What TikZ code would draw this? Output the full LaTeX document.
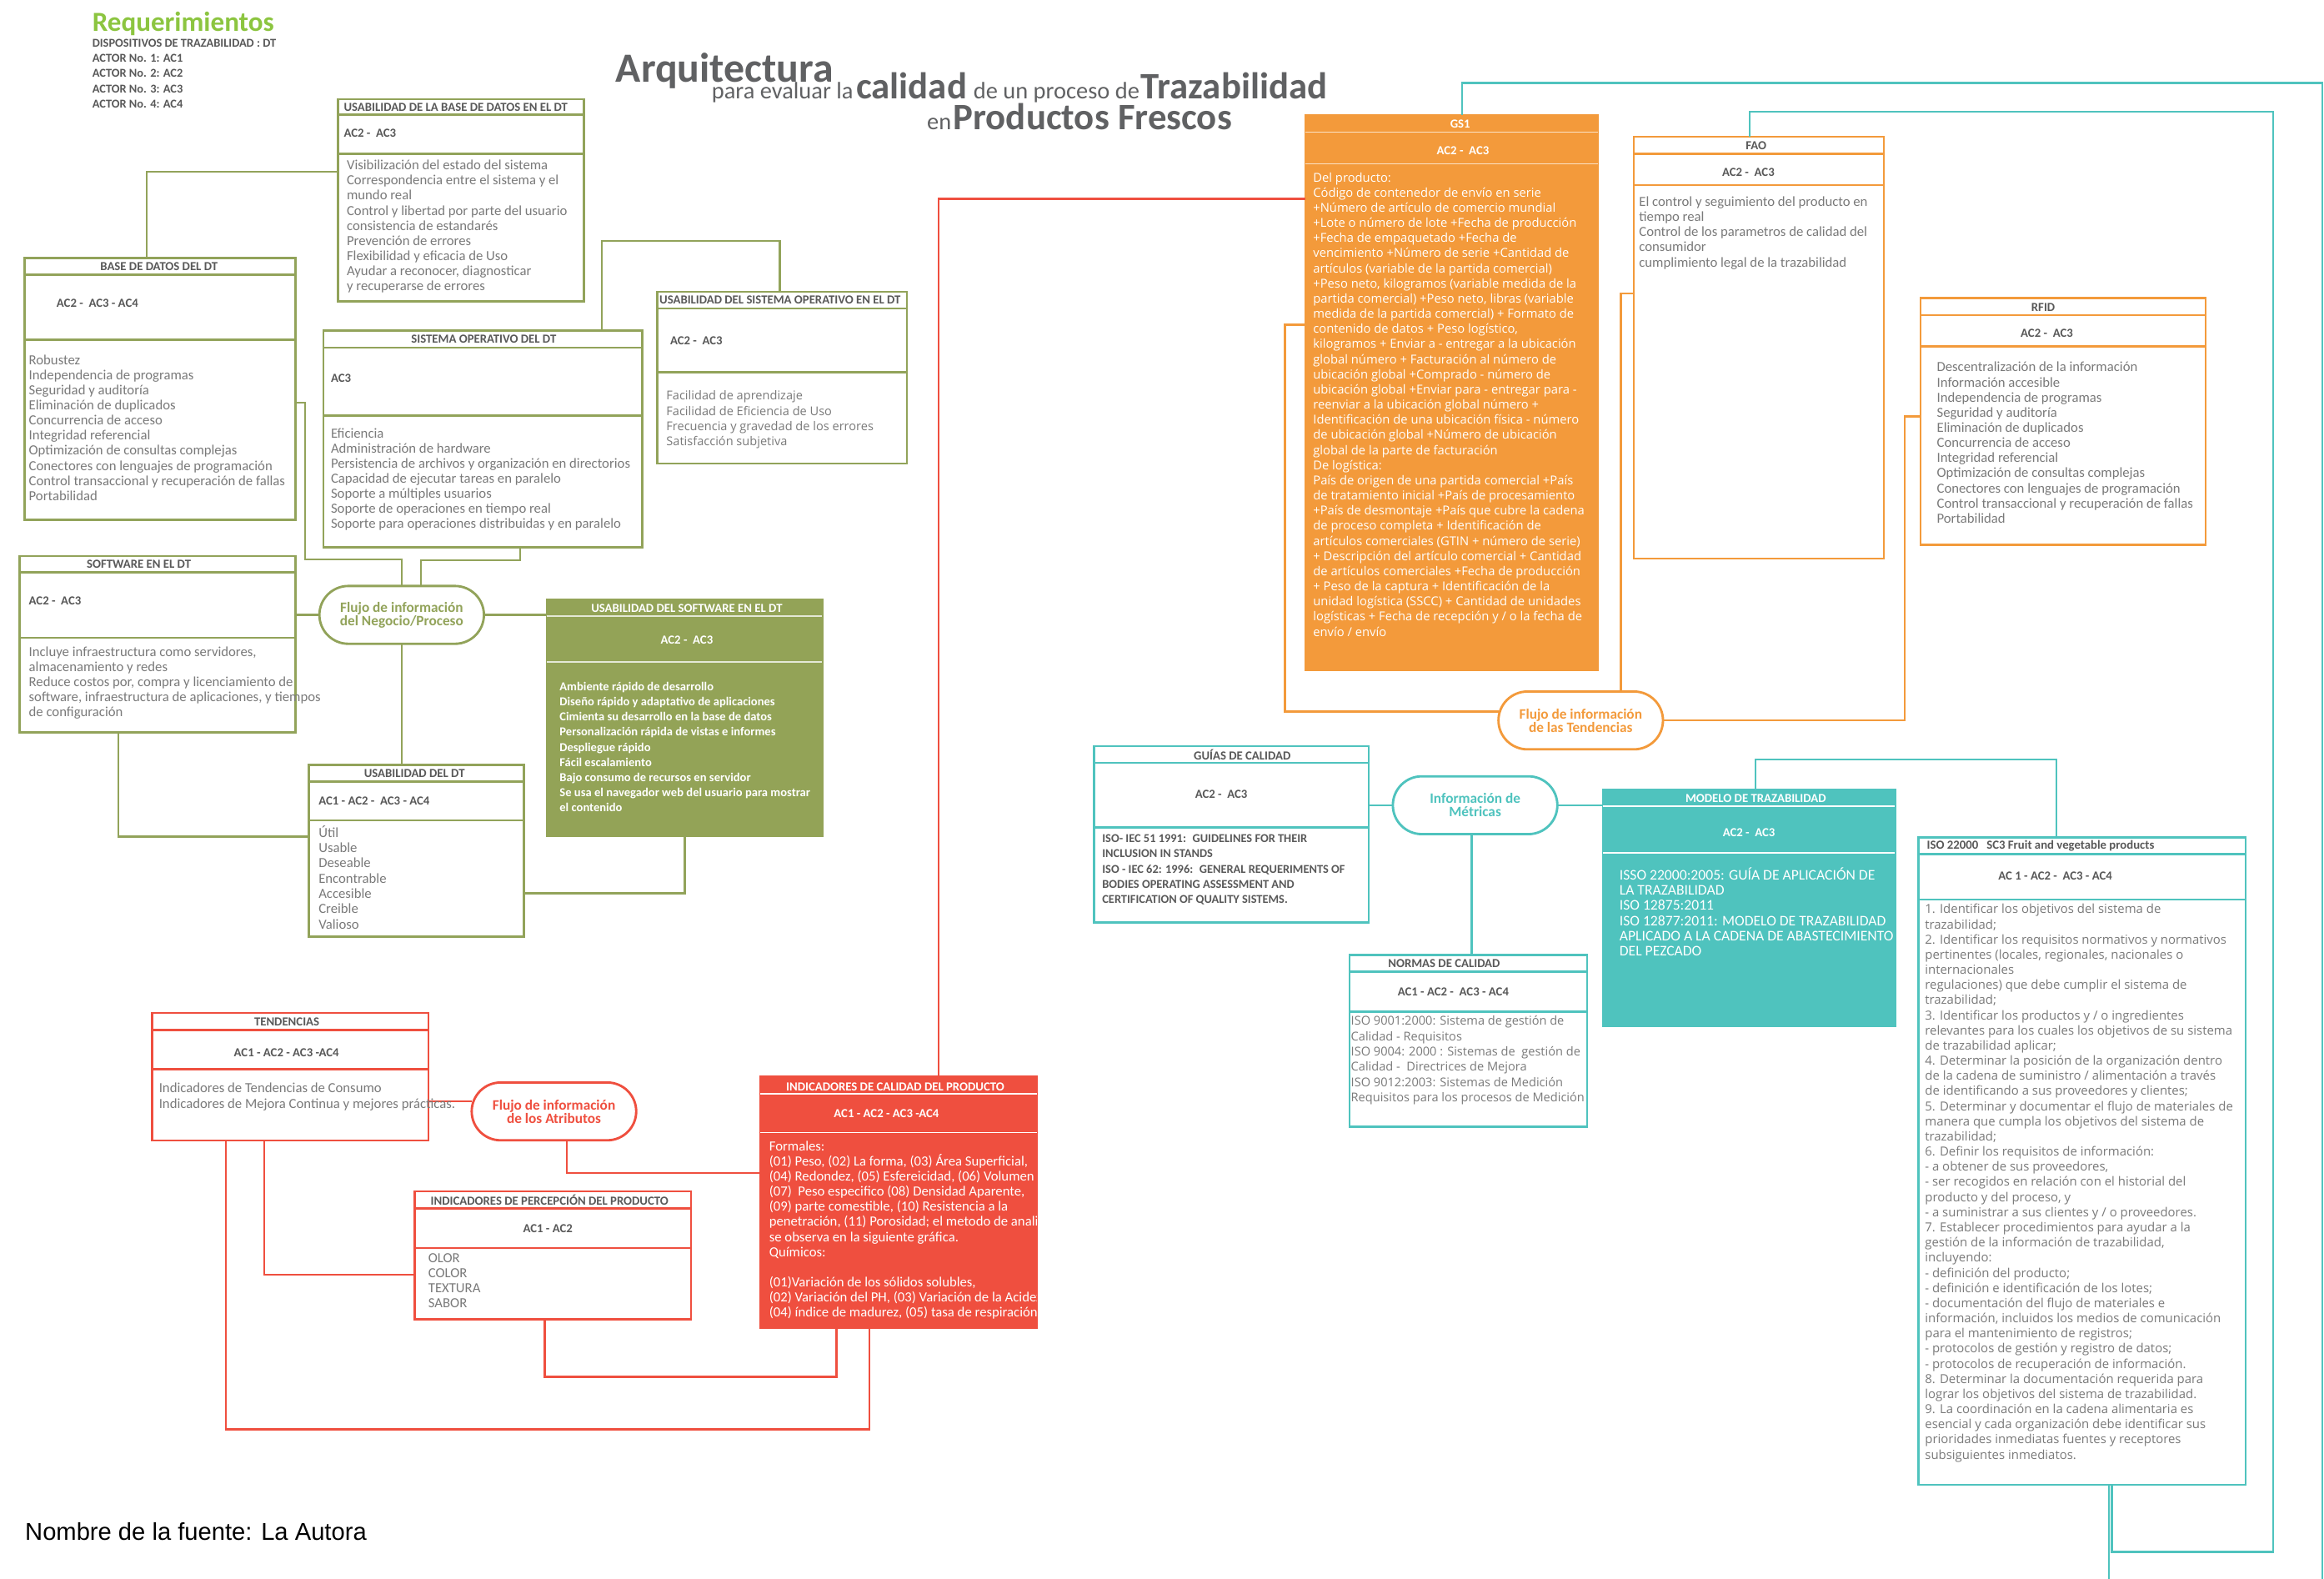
\documentclass[tikz,border=0pt]{standalone}
\usepackage{fontspec}
\setmainfont{Carlito}
\newfontfamily\seg{Open Sans}
\newfontfamily\ari{Liberation Sans}
\definecolor{grn}{HTML}{92A35A}
\definecolor{grnf}{HTML}{93A357}
\definecolor{red1}{HTML}{EF4F3F}
\definecolor{org}{HTML}{F39A3B}
\definecolor{teal1}{HTML}{4FC3BE}
\definecolor{txtg}{HTML}{7A7A7A}
\definecolor{ttlg}{HTML}{595959}
\definecolor{reqg}{HTML}{8CC540}
\definecolor{titg}{HTML}{606163}
\newcommand\tbox[8]{%
  \pgfmathsetmacro\bw{#5-#3}\pgfmathsetmacro\bh{#6-#4}%
  \node[#2, anchor=north west, minimum width=\bw pt, minimum height=\bh pt] (#1) at (#3,#4) {};
  \draw[#2sep] (#3,#7) -- (#5,#7) (#3,#8) -- (#5,#8);}
\tikzset{
  every node/.style={inner sep=0pt, outer sep=0pt},
  gb/.style={rectangle, draw=grn, fill=white, line width=1.4pt},
  gbsep/.style={draw=grn, line width=1.4pt},
  gf/.style={rectangle, draw=grnf, fill=grnf, line width=1.4pt},
  gfsep/.style={draw=white!75!grnf, line width=0.8pt},
  rb/.style={rectangle, draw=red1, fill=white, line width=1.4pt},
  rbsep/.style={draw=red1, line width=1.4pt},
  rf/.style={rectangle, draw=red1, fill=red1, line width=1.4pt},
  rfsep/.style={draw=white, line width=0.9pt},
  ob/.style={rectangle, draw=org, fill=white, line width=1.4pt},
  obsep/.style={draw=org, line width=1.4pt},
  of/.style={rectangle, draw=org, fill=org, line width=1.4pt},
  ofsep/.style={draw=white!70!org, line width=0.8pt},
  tb/.style={rectangle, draw=teal1, fill=white, line width=1.4pt},
  tbsep/.style={draw=teal1, line width=1.4pt},
  tf/.style={rectangle, draw=teal1, fill=teal1, line width=1.4pt},
  tfsep/.style={draw=white, line width=0.9pt},
  gl/.style={draw=grn, line width=1.3pt},
  rl/.style={draw=red1, line width=1.3pt},
  ol/.style={draw=org, line width=1.3pt},
  tl/.style={draw=teal1, line width=1.3pt},
  ttl/.style={font=\fontsize{8.3}{9}\selectfont\bfseries, text=ttlg},
  acl/.style={font=\fontsize{8.3}{9}\selectfont\bfseries, text=ttlg},
  bod/.style={anchor=north west, align=left, text=txtg, font=\fontsize{9.4}{10.2}\selectfont, execute at begin node=\strut},
  sbod/.style={anchor=north west, align=left, text=txtg, font=\seg\fontsize{8.2}{10.22}\selectfont, execute at begin node=\strut},
  flow/.style={rectangle, rounded corners=19.5pt, line width=1.6pt, fill=white, align=center,
    font=\fontsize{9.7}{9}\selectfont\bfseries, minimum width=111pt, minimum height=39pt},
}
\begin{document}
\begin{tikzpicture}[x=1pt,y=-1pt]
\useasboundingbox (0,0) rectangle (1568,1065.2);
\fill[white] (0,0) rectangle (1568,1065.2);

% ---------- header ----------
\node[anchor=base west, font=\fontsize{18.6}{20}\selectfont\bfseries, text=reqg] (req) at (62.3,21) {Requerimientos};
\node[anchor=north west, align=left, font=\fontsize{8.1}{10.33}\selectfont\bfseries, text=ttlg, execute at begin node=\strut] (actors) at (62.3,26.3)
 {DISPOSITIVOS DE TRAZABILIDAD : DT\\ACTOR No. 1: AC1\\ACTOR No. 2: AC2\\ACTOR No. 3: AC3\\ACTOR No. 4: AC4};
\node[anchor=base west, font=\fontsize{28}{30}\selectfont\bfseries, text=titg] (ta) at (415.6,55.6) {Arquitectura};
\node[anchor=base west, font=\fontsize{16}{18}\selectfont, text=titg] (tb) at (480.2,66.6) {para evaluar la};
\node[anchor=base west, font=\fontsize{25.2}{27}\selectfont\bfseries, text=titg] (tc) at (577.7,66.6) {calidad};
\node[anchor=base west, font=\fontsize{16}{18}\selectfont, text=titg] (td) at (656.8,66.6) {de un proceso de};
\node[anchor=base west, font=\fontsize{25.2}{27}\selectfont\bfseries, text=titg] (te) at (769.8,66.6) {Trazabilidad};
\node[anchor=base west, font=\fontsize{16}{18}\selectfont, text=titg] (tf) at (625.5,87.7) {en};
\node[anchor=base west, font=\fontsize{25.2}{27}\selectfont\bfseries, text=titg] (tg) at (643.2,87.7) {Productos Frescos};
\node[anchor=base west, font=\ari\fontsize{16.4}{18}\selectfont, text=black] (src) at (17,1039) {Nombre de la fuente: La Autora};

% ---------- boxes ----------
\tbox{ubd}{gb}{228}{67}{394}{203.4}{77.4}{103.7}
\tbox{bd}{gb}{16.6}{174}{199.4}{350.6}{185.2}{229.3}
\tbox{so}{gb}{218.1}{223.1}{433.3}{369.3}{234.4}{280.3}
\tbox{uso}{gb}{443.4}{196.8}{612}{312.7}{208.1}{251.2}
\tbox{sw}{gb}{13.2}{375}{199.4}{494}{386.2}{430.2}
\tbox{usw}{gf}{369}{404.4}{554.8}{563.9}{415.6}{446.6}
\tbox{usdt}{gb}{208.5}{516}{353.5}{631.8}{527.2}{553.4}
\tbox{gs1}{of}{880.6}{77.5}{1078}{451.9}{89.2}{110.4}
\tbox{fao}{ob}{1102.2}{92.2}{1270.9}{376.8}{103.8}{124.9}
\tbox{rfid}{ob}{1295.8}{201.1}{1488.1}{367.4}{212.7}{233.8}
\tbox{ten}{rb}{102.6}{683.4}{289.1}{769.5}{694.8}{721.3}
\tbox{ipp}{rb}{279.8}{803.6}{466.3}{890}{815.3}{841.8}
\tbox{icp}{rf}{513}{726.3}{699.5}{895.6}{738}{764}
\tbox{gc}{tb}{738.2}{503.4}{923.5}{622.4}{514.6}{558.3}
\tbox{mt}{tf}{1081.6}{533}{1278.5}{692.2}{543.7}{575.2}
\tbox{nc}{tb}{910.6}{644.3}{1070.8}{760.2}{655.6}{682.4}
\tbox{iso}{tb}{1294.5}{564.9}{1515.2}{1001.7}{576.1}{606.8}

% ---------- flow nodes ----------
\node[flow, draw=grn, text=grn] (fn) at (271,414.8) {Flujo de información\\del Negocio/Proceso};
\node[flow, draw=red1, text=red1] (fa) at (373.75,749.75) {Flujo de información\\de los Atributos};
\node[flow, draw=org, text=org] (ft) at (1066.5,486) {Flujo de información\\de las Tendencias};
\node[flow, draw=teal1, text=teal1] (im) at (995.25,543.2) {Información de\\Métricas};
\coordinate (isobot) at (1423,1065.2);
\coordinate (rbot) at (1567,1065.2);

% ---------- connectors ----------
\draw[gl] (ubd.west |- 0,115.7) -| (99,0 |- bd.north);
\draw[gl] (bd.east |- 0,271.8) -| (205.8,377.2) -| (271.2,0 |- fn.north);
\draw[gl] (351,0 |- so.south) |- (284,377.8) -- (284,0 |- fn.north);
\draw[gl] (405.9,0 |- so.north) |- (526.2,162.7) -- (526.2,0 |- uso.north);
\draw[gl] (sw.east |- fn.west) -- (fn.west);
\draw[gl] (fn.east) -- (usw.west |- fn.east);
\draw[gl] (fn.south) -- (usdt.north -| fn.south);
\draw[gl] (79.8,0 |- sw.south) |- (usdt.west |- 0,564.3);
\draw[gl] (462,0 |- usw.south) |- (usdt.east |- 0,602.7);

\draw[rl] (ten.east |- 0,743) -- (fa.west |- 0,743);
\draw[rl] (382.4,0 |- fa.south) |- (icp.west |- 0,791.2);
\draw[rl] (633.3,0 |- icp.north) |- (gs1.west |- 0,134.1);
\draw[rl] (564.3,0 |- icp.south) |- (367.5,928.8) -- (367.5,0 |- ipp.south);
\draw[rl] (586.7,0 |- icp.south) |- (152.5,964.3) -- (152.5,0 |- ten.south);
\draw[rl] (178.1,0 |- ten.south) |- (ipp.west |- 0,860.1);

\draw[ol] (gs1.west |- 0,219) -| (867,480) -- (ft.west |- 0,480);
\draw[ol] (fao.west |- 0,198) -| (1093.6,0 |- ft.north);
\draw[ol] (rfid.west |- 0,281) -| (1285.2,486) -- (ft.east);

\draw[tl] (gc.east |- im.west) -- (im.west);
\draw[tl] (im.east) -- (mt.west |- im.east);
\draw[tl] (993,0 |- im.south) -- (993,0 |- nc.north);
\draw[tl] (1184.6,0 |- mt.north) |- (1387.5,512.2) -- (1387.5,0 |- iso.north);
\draw[tl] (986.5,0 |- gs1.north) |- (1567,56) -- (rbot);
\draw[tl] (1180.5,0 |- fao.north) |- (1533.5,75.5) |- (1424.8,1046.9) -- (1424.8,0 |- iso.south);
\draw[tl] (1423,0 |- iso.south) -- (isobot);

% ---------- titles & actor labels ----------
\node[ttl] (ubdT) at (307.5,72.5) {USABILIDAD DE LA BASE DE DATOS EN EL DT};
\node[acl, anchor=west] (ubdA) at (232,90) {AC2 -~ AC3};
\node[ttl] (bdT) at (107.3,179.6) {BASE DE DATOS DEL DT};
\node[acl, anchor=west] (bdA) at (38.2,204.4) {AC2 -~ AC3 - AC4};
\node[ttl] (soT) at (326.4,228.8) {SISTEMA OPERATIVO DEL DT};
\node[acl, anchor=west] (soA) at (223.3,255) {AC3};
\node[ttl] (usoT) at (526.3,202.5) {USABILIDAD DEL SISTEMA OPERATIVO EN EL DT};
\node[acl, anchor=west] (usoA) at (452.2,229.7) {AC2 -~ AC3};
\node[ttl] (swT) at (93.7,380.6) {SOFTWARE EN EL DT};
\node[acl, anchor=west] (swA) at (19.5,405.5) {AC2 -~ AC3};
\node[ttl, text=white] (uswT) at (463.4,410.6) {USABILIDAD DEL SOFTWARE EN EL DT};
\node[acl, text=white] (uswA) at (463.4,431.8) {AC2 -~ AC3};
\node[ttl] (usdtT) at (279.6,521.8) {USABILIDAD DEL DT};
\node[acl, anchor=west] (usdtA) at (215,540.3) {AC1 - AC2 -~ AC3 - AC4};
\node[ttl, text=white] (gs1T) at (985.2,83.4) {GS1};
\node[acl, text=white] (gs1A) at (987,101.6) {AC2 -~ AC3};
\node[ttl] (faoT) at (1184.8,98.2) {FAO};
\node[acl] (faoA) at (1179.6,116.3) {AC2 -~ AC3};
\node[ttl] (rfidT) at (1378.5,207.3) {RFID};
\node[acl] (rfidA) at (1381,224.8) {AC2 -~ AC3};
\node[ttl] (tenT) at (193.5,689.4) {TENDENCIAS};
\node[acl] (tenA) at (193.3,709.9) {AC1 - AC2 - AC3 -AC4};
\node[ttl] (ippT) at (370.8,809.7) {INDICADORES DE PERCEPCIÓN DEL PRODUCTO};
\node[acl] (ippA) at (369.6,828.8) {AC1 - AC2};
\node[ttl, text=white] (icpT) at (604,733) {INDICADORES DE CALIDAD DEL PRODUCTO};
\node[acl, text=white] (icpA) at (598.1,751.4) {AC1 - AC2 - AC3 -AC4};
\node[ttl] (gcT) at (838.1,509) {GUÍAS DE CALIDAD};
\node[acl] (gcA) at (824,535.8) {AC2 -~ AC3};
\node[ttl, text=white] (mtT) at (1184.6,538.6) {MODELO DE TRAZABILIDAD};
\node[acl, text=white] (mtA) at (1180,561.5) {AC2 -~ AC3};
\node[ttl] (ncT) at (974.3,650.2) {NORMAS DE CALIDAD};
\node[acl] (ncA) at (980.5,669.3) {AC1 - AC2 -~ AC3 - AC4};
\node[ttl, anchor=west] (isoT) at (1300.1,570.4) {ISO 22000~~ SC3 Fruit and vegetable products};
\node[acl] (isoA) at (1386.7,590.7) {AC 1 - AC2 -~ AC3 - AC4};

% ---------- body texts ----------
\node[bod] (ubdB) at (234,108) {Visibilización del estado del sistema\\Correspondencia entre el sistema y el\\mundo real\\Control y libertad por parte del usuario\\consistencia de estandarés\\Prevención de errores\\Flexibilidad y eficacia de Uso\\Ayudar a reconocer, diagnosticar\\y recuperarse de errores};
\node[bod] (bdB) at (19.5,239.3) {Robustez\\Independencia de programas\\Seguridad y auditoría\\Eliminación de duplicados\\Concurrencia de acceso\\Integridad referencial\\Optimización de consultas complejas\\Conectores con lenguajes de programación\\Control transaccional y recuperación de fallas\\Portabilidad};
\node[bod] (soB) at (223.3,288.8) {Eficiencia\\Administración de hardware\\Persistencia de archivos y organización en directorios\\Capacidad de ejecutar tareas en paralelo\\Soporte a múltiples usuarios\\Soporte de operaciones en tiempo real\\Soporte para operaciones distribuidas y en paralelo};
\node[sbod, font=\seg\fontsize{8.2}{10.3}\selectfont] (usoB) at (449.6,263.6) {Facilidad de aprendizaje\\Facilidad de Eficiencia de Uso\\Frecuencia y gravedad de los errores\\Satisfacción subjetiva};
\node[bod, font=\fontsize{9.4}{10.1}\selectfont] (swB) at (19.5,436.2) {Incluye infraestructura como servidores,\\almacenamiento y redes\\Reduce costos por, compra y licenciamiento de\\software, infraestructura de aplicaciones, y tiempos\\de configuración};
\node[bod, text=white, font=\fontsize{8.2}{10.2}\selectfont\bfseries] (uswB) at (377.6,460.2) {Ambiente rápido de desarrollo\\Diseño rápido y adaptativo de aplicaciones\\Cimienta su desarrollo en la base de datos\\Personalización rápida de vistas e informes\\Despliegue rápido\\Fácil escalamiento\\Bajo consumo de recursos en servidor\\Se usa el navegador web del usuario para mostrar\\el contenido};
\node[bod, font=\fontsize{9.4}{10.3}\selectfont] (usdtB) at (215,557) {Útil\\Usable\\Deseable\\Encontrable\\Accesible\\Creible\\Valioso};
\node[sbod, text=white, font=\seg\fontsize{8.3}{10.22}\selectfont] (gs1B) at (886,116.3) {Del producto:\\Código de contenedor de envío en serie\\+Número de artículo de comercio mundial\\+Lote o número de lote +Fecha de producción\\+Fecha de empaquetado +Fecha de\\vencimiento +Número de serie +Cantidad de\\artículos (variable de la partida comercial)\\+Peso neto, kilogramos (variable medida de la\\partida comercial) +Peso neto, libras (variable\\medida de la partida comercial) + Formato de\\contenido de datos + Peso logístico,\\kilogramos + Enviar a - entregar a la ubicación\\global número + Facturación al número de\\ubicación global +Comprado - número de\\ubicación global +Enviar para - entregar para -\\reenviar a la ubicación global número +\\Identificación de una ubicación física - número\\de ubicación global +Número de ubicación\\global de la parte de facturación\\De logística:\\País de origen de una partida comercial +País\\de tratamiento inicial +País de procesamiento\\+País de desmontaje +País que cubre la cadena\\de proceso completa + Identificación de\\artículos comerciales (GTIN + número de serie)\\+ Descripción del artículo comercial + Cantidad\\de artículos comerciales +Fecha de producción\\+ Peso de la captura + Identificación de la\\unidad logística (SSCC) + Cantidad de unidades\\logísticas + Fecha de recepción y / o la fecha de\\envío / envío};
\node[bod, font=\fontsize{9.4}{10.3}\selectfont] (faoB) at (1105.9,132.4) {El control y seguimiento del producto en\\tiempo real\\Control de los parametros de calidad del\\consumidor\\cumplimiento legal de la trazabilidad};
\node[bod] (rfidB) at (1306.8,244.3) {Descentralización de la información\\Información accesible\\Independencia de programas\\Seguridad y auditoría\\Eliminación de duplicados\\Concurrencia de acceso\\Integridad referencial\\Optimización de consultas complejas\\Conectores con lenguajes de programación\\Control transaccional y recuperación de fallas\\Portabilidad};
\node[bod, font=\fontsize{9.4}{10.5}\selectfont] (tenB) at (107.3,730.5) {Indicadores de Tendencias de Consumo\\Indicadores de Mejora Continua y mejores prácticas.};
\node[bod, font=\fontsize{9.4}{10.07}\selectfont] (ippB) at (289,845.8) {OLOR\\COLOR\\TEXTURA\\SABOR};
\begin{scope}
\clip (icp.north west) rectangle (icp.south east);
\node[bod, text=white] (icpB) at (519,769.7) {Formales:\\(01) Peso, (02) La forma, (03) Área Superficial,\\(04) Redondez, (05) Esfereicidad, (06) Volumen\\(07)~ Peso especifico (08) Densidad Aparente,\\(09) parte comestible, (10) Resistencia a la\\penetración, (11) Porosidad; el metodo de analisis\\se observa en la siguiente gráfica.\\Químicos:\\\mbox{}\\(01)Variación de los sólidos solubles,\\(02) Variación del PH, (03) Variación de la Acidez\\(04) índice de madurez, (05) tasa de respiración};
\end{scope}
\node[bod, text=ttlg, font=\fontsize{8.1}{10.2}\selectfont\bfseries] (gcB) at (743.7,563.2) {ISO- IEC 51 1991:~ GUIDELINES FOR THEIR\\INCLUSION IN STANDS\\ISO - IEC 62: 1996:~ GENERAL REQUERIMENTS OF\\BODIES OPERATING ASSESSMENT AND\\CERTIFICATION OF QUALITY SISTEMS.};
\node[bod, text=white, font=\fontsize{9.9}{10.3}\selectfont] (mtB) at (1092.7,585.2) {ISSO 22000:2005: GUÍA DE APLICACIÓN DE\\LA TRAZABILIDAD\\ISO 12875:2011\\ISO 12877:2011: MODELO DE TRAZABILIDAD\\APLICADO A LA CADENA DE ABASTECIMIENTO\\DEL PEZCADO};
\node[sbod, font=\seg\fontsize{8.2}{10.3}\selectfont] (ncB) at (911.5,685.4) {ISO 9001:2000: Sistema de gestión de\\Calidad - Requisitos\\ISO 9004: 2000 : Sistemas de~ gestión de\\Calidad -~ Directrices de Mejora\\ISO 9012:2003: Sistemas de Medición\\Requisitos para los procesos de Medición};
\node[sbod, font=\seg\fontsize{8.4}{10.22}\selectfont] (isoB) at (1298.8,609.9) {1. Identificar los objetivos del sistema de\\trazabilidad;\\2. Identificar los requisitos normativos y normativos\\pertinentes (locales, regionales, nacionales o\\internacionales\\regulaciones) que debe cumplir el sistema de\\trazabilidad;\\3. Identificar los productos y / o ingredientes\\relevantes para los cuales los objetivos de su sistema\\de trazabilidad aplicar;\\4. Determinar la posición de la organización dentro\\de la cadena de suministro / alimentación a través\\de identificando a sus proveedores y clientes;\\5. Determinar y documentar el flujo de materiales de\\manera que cumpla los objetivos del sistema de\\trazabilidad;\\6. Definir los requisitos de información:\\- a obtener de sus proveedores,\\- ser recogidos en relación con el historial del\\producto y del proceso, y\\- a suministrar a sus clientes y / o proveedores.\\7. Establecer procedimientos para ayudar a la\\gestión de la información de trazabilidad,\\incluyendo:\\- definición del producto;\\- definición e identificación de los lotes;\\- documentación del flujo de materiales e\\información, incluidos los medios de comunicación\\para el mantenimiento de registros;\\- protocolos de gestión y registro de datos;\\- protocolos de recuperación de información.\\8. Determinar la documentación requerida para\\lograr los objetivos del sistema de trazabilidad.\\9. La coordinación en la cadena alimentaria es\\esencial y cada organización debe identificar sus\\prioridades inmediatas fuentes y receptores\\subsiguientes inmediatos.};
\end{tikzpicture}
\end{document}
